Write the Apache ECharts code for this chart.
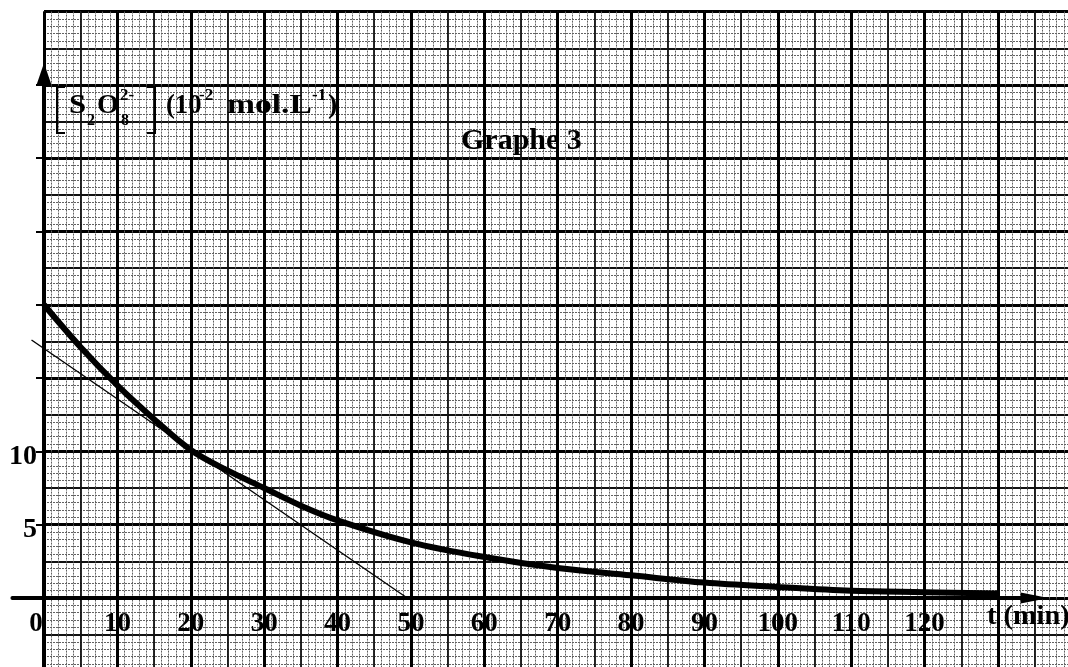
<!DOCTYPE html>
<html>
<head>
<meta charset="utf-8">
<script src="https://cdn.jsdelivr.net/npm/echarts@6/dist/echarts.min.js"></script>
<style>
  html, body { margin: 0; padding: 0; background: #ffffff; }
  #chart { width: 1068px; height: 667px; }
</style>
</head>
<body>
<div id="chart"></div>
<script>
// Decay of the persulfate concentration with time
const timeMin = [0, 5, 10, 15, 20, 25, 30, 35, 40, 50, 60, 70, 80, 90, 100, 110, 120, 130];
const concentration = [20, 17.1, 14.5, 12.2, 10.1, 8.7, 7.5, 6.3, 5.3, 3.8, 2.8, 2.05, 1.55, 1.05, 0.75, 0.5, 0.4, 0.3];

// Tangent to the curve drawn at t = 20 min
const tangentTime = [-1.7, 49.5];
const tangentConc = [17.6, 0];

// Graduations written along the axes
const xTickLabels = ['0', '10', '20', '30', '40', '50', '60', '70', '80', '90', '100', '110', '120'];
const yTickLabels = ['5', '10'];

// Paper geometry: origin and scale of the millimetre sheet
const X0 = 44, Y0 = 598;
const PX_PER_MIN = 7.338;
const PX_PER_UNIT = 14.66;

const FONT = '"Liberation Serif", "Times New Roman", serif';

// Graph paper sheet (t: 0..140, C: -5..40)
const paperGrid = {
  left: X0,
  top: Y0 - 40 * PX_PER_UNIT,
  width: 140 * PX_PER_MIN,
  height: 45 * PX_PER_UNIT,
  outerBoundsMode: 'none',
  containLabel: false
};
// Plot frame carrying the axes and curves
const plotGrid = {
  left: X0 - 4.3 * PX_PER_MIN,
  top: Y0 - 35 * PX_PER_UNIT,
  width: (135 + 4.3) * PX_PER_MIN,
  height: 40 * PX_PER_UNIT,
  outerBoundsMode: 'none',
  containLabel: false
};

function paperAxis(dim, interval, lineStyle, extra) {
  const base = {
    type: 'value',
    gridIndex: 0,
    position: dim === 'x' ? 'bottom' : 'left',
    min: dim === 'x' ? 0 : -5,
    max: dim === 'x' ? 140 : 40,
    interval: interval,
    axisLine: { show: false, onZero: false },
    axisTick: { show: false },
    axisLabel: { show: false },
    splitLine: { show: true, lineStyle: lineStyle }
  };
  return Object.assign(base, extra || {});
}

const fineLine = { color: '#626262', width: 1, type: [2, 1] };
const halfLine = { color: '#111111', width: 1.8, type: 'solid' };
const mainLine = { color: '#000000', width: 3, type: 'solid' };

const labelFont = { color: '#000', fontFamily: FONT, fontWeight: 'bold' };

const xAxes = [
  paperAxis('x', 1, fineLine),
  paperAxis('x', 5, halfLine),
  paperAxis('x', 10, mainLine, {
    axisLabel: Object.assign({
      show: true,
      inside: true,
      margin: 47,
      verticalAlign: 'middle',
      fontSize: 27,
      formatter: function (v) {
        const s = String(v);
        if (v === 0) return '{z|0}';
        return xTickLabels.indexOf(s) >= 0 ? s : '';
      },
      rich: {
        z: Object.assign({ fontSize: 27, padding: [0, 16, 0, 0] }, labelFont)
      }
    }, labelFont)
  }),
  {
    type: 'value',
    gridIndex: 1,
    position: 'bottom',
    min: -4.3,
    max: 135,
    z: 3,
    axisLine: {
      show: true, onZero: true,
      symbol: ['none', 'triangle'], symbolSize: [11, 28], symbolOffset: [0, 0],
      lineStyle: { color: '#000', width: 4 }
    },
    axisTick: { show: false },
    axisLabel: { show: false },
    splitLine: { show: false }
  }
];

const yAxes = [
  paperAxis('y', 0.5, fineLine),
  paperAxis('y', 2.5, halfLine),
  paperAxis('y', 5, mainLine, {
    axisLabel: Object.assign({
      show: true,
      margin: 7,
      verticalAlign: 'middle',
      fontSize: 28,
      formatter: function (v) {
        const s = String(v);
        return yTickLabels.indexOf(s) >= 0 ? '{n|' + s + '}' : '';
      },
      rich: {
        n: Object.assign({ fontSize: 28, padding: [10, 0, 0, 0] }, labelFont)
      }
    }, labelFont)
  }),
  {
    type: 'value',
    gridIndex: 1,
    position: 'left',
    min: -5,
    max: 35,
    interval: 5,
    z: 3,
    axisLine: {
      show: true, onZero: true,
      symbol: ['none', 'triangle'], symbolSize: [15, 22], symbolOffset: [0, 11],
      lineStyle: { color: '#000', width: 4 }
    },
    axisTick: { show: true, inside: false, length: 8, lineStyle: { color: '#000', width: 2 } },
    axisLabel: { show: false },
    splitLine: { show: false }
  }
];

// Axis titles, set piece by piece
function word(text, x, y, size, scaleX) {
  return {
    type: 'text',
    x: x, y: y,
    scaleX: scaleX || 1,
    z: 10,
    style: {
      text: text,
      fill: '#000',
      font: 'bold ' + size + 'px ' + FONT,
      align: 'left',
      verticalAlign: 'middle'
    }
  };
}
function bracket(points) {
  return {
    type: 'polyline',
    z: 10,
    shape: { points: points },
    style: { stroke: '#000', lineWidth: 2, fill: null }
  };
}

const axisTitles = [
  // [S2O8 2-] (10^-2 mol.L^-1)
  bracket([[65, 87], [57, 87], [57, 133], [65, 133]]),
  bracket([[147, 87], [155, 87], [155, 133], [147, 133]]),
  word('S', 69, 106, 28, 1.1),
  word('2', 87, 121, 16),
  word('O', 97, 106, 28),
  word('2-', 120, 96, 17),
  word('8', 121, 121, 16),
  word('(10', 166, 106, 28, 0.95),
  word('-2', 199, 96, 17),
  word('mol.L', 227, 106, 28, 1.2),
  word('-1', 312, 96, 17),
  word(')', 328, 106, 28),
  // t (min)
  word('t (min)', 987, 617, 27, 1.05)
];

const chart = echarts.init(document.getElementById('chart'), null, { renderer: 'canvas' });
chart.setOption({
  backgroundColor: '#ffffff',
  animation: false,
  title: {
    text: 'Graphe 3',
    left: 461,
    top: 126,
    padding: 0,
    textStyle: { color: '#000', fontFamily: FONT, fontWeight: 'bold', fontSize: 30 }
  },
  grid: [paperGrid, plotGrid],
  xAxis: xAxes,
  yAxis: yAxes,
  graphic: axisTitles,
  series: [
    {
      name: 'concentration',
      type: 'line',
      xAxisIndex: 3,
      yAxisIndex: 3,
      z: 5,
      smooth: 0.35,
      showSymbol: false,
      symbol: 'none',
      lineStyle: { color: '#000', width: 6 },
      data: timeMin.map(function (t, i) { return [t, concentration[i]]; })
    },
    {
      name: 'tangent',
      type: 'line',
      xAxisIndex: 3,
      yAxisIndex: 3,
      z: 4,
      showSymbol: false,
      symbol: 'none',
      clip: false,
      lineStyle: { color: '#000', width: 1.4 },
      data: tangentTime.map(function (t, i) { return [t, tangentConc[i]]; })
    }
  ]
});
</script>
</body>
</html>
